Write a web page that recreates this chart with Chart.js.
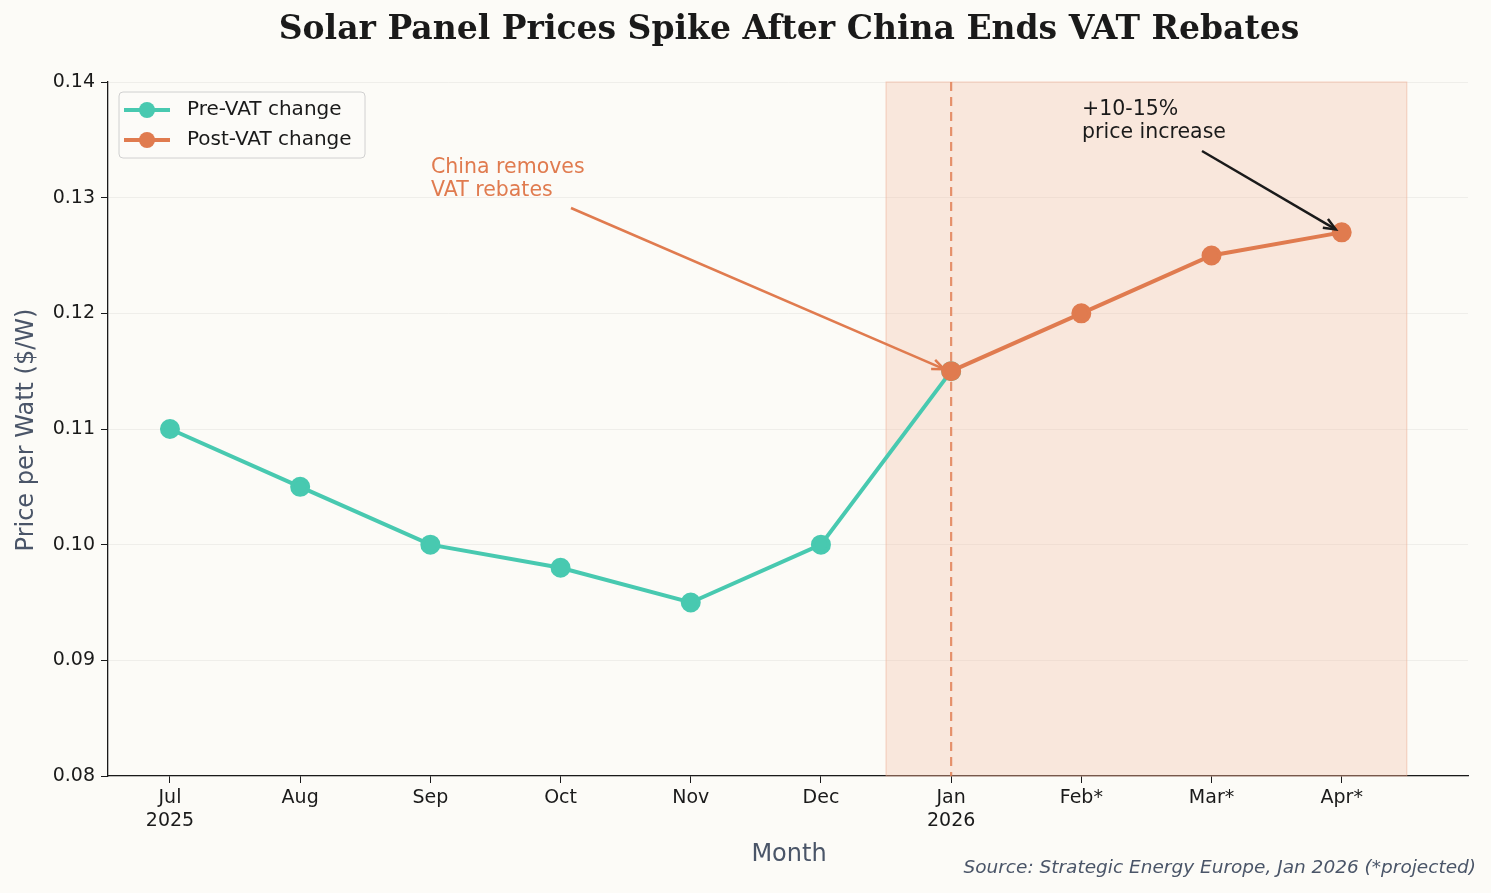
<!DOCTYPE html>
<html><head><meta charset="utf-8">
<script src="https://cdn.jsdelivr.net/npm/chart.js@4"></script>
<style>html,body{margin:0;padding:0;background:#fcfbf7}</style>
</head><body>
<div style="width:1491px;height:893px"><canvas id="c" width="1491" height="893"></canvas></div>
<script>
const months = [['Jul','2025'],'Aug','Sep','Oct','Nov','Dec',['Jan','2026'],'Feb*','Mar*','Apr*'];
const preVat = [0.110,0.105,0.100,0.098,0.095,0.100,0.115];
const postVat = [0.115,0.120,0.125,0.127];
const postStart = 6;
const yTicks = [0.08,0.09,0.10,0.11,0.12,0.13,0.14];
const TEAL='#48c9b0', ORANGE='#e07b4f';

const overlay = {
  id:'overlay',
  beforeDatasetsDraw(ch){
    const {ctx,chartArea:a,scales:{x,y}}=ch;
    ctx.save();
    ctx.fillStyle='rgba(240,170,140,0.25)';
    const x1=x.getPixelForValue(5.5), x2=x.getPixelForValue(9.5);
    ctx.fillRect(x1,a.top,x2-x1,a.bottom-a.top);
    ctx.strokeStyle='rgba(240,170,140,0.5)';ctx.lineWidth=1;
    ctx.strokeRect(x1,a.top,x2-x1,a.bottom-a.top);
    ctx.setLineDash([9,6]);ctx.strokeStyle='rgba(224,123,79,0.8)';ctx.lineWidth=2.2;
    const xj=x.getPixelForValue(6);
    ctx.beginPath();ctx.moveTo(xj,a.top);ctx.lineTo(xj,a.bottom);ctx.stroke();
    ctx.restore();
  },
  afterDraw(ch){
    const {ctx,chartArea:a,scales:{x,y}}=ch;
    ctx.save();
    ctx.fillStyle='#1a1a1a';ctx.font='bold 33px "DejaVu Serif"';ctx.textAlign='center';ctx.textBaseline='middle';
    ctx.fillText('Solar Panel Prices Spike After China Ends VAT Rebates',789,30);
    ctx.fillStyle='#4a5568';ctx.font='24px "DejaVu Sans"';
    ctx.fillText('Month',789,855);
    ctx.save();ctx.translate(27,430);ctx.rotate(-Math.PI/2);ctx.fillText('Price per Watt ($/W)',0,0);ctx.restore();
    ctx.font='italic 18.5px "DejaVu Sans"';ctx.textAlign='right';
    ctx.fillText('Source: Strategic Energy Europe, Jan 2026 (*projected)',1476,868);
    function arrow(x0,y0,x1,y1,col){
      ctx.strokeStyle=col;ctx.fillStyle=col;ctx.lineWidth=2.5;
      ctx.beginPath();ctx.moveTo(x0,y0);ctx.lineTo(x1,y1);ctx.stroke();
      const ang=Math.atan2(y1-y0,x1-x0),L=13;
      ctx.beginPath();ctx.moveTo(x1-L*Math.cos(ang-0.4),y1-L*Math.sin(ang-0.4));ctx.lineTo(x1,y1);
      ctx.lineTo(x1-L*Math.cos(ang+0.4),y1-L*Math.sin(ang+0.4));ctx.stroke();
    }
    ctx.textAlign='left';ctx.textBaseline='middle';ctx.font='20.5px "DejaVu Sans"';
    ctx.fillStyle=ORANGE;ctx.fillText('China removes',431,168);ctx.fillText('VAT rebates',431,191);
    arrow(571,208,x.getPixelForValue(6)-7,y.getPixelForValue(0.115)-2,ORANGE);
    ctx.fillStyle='#1a1a1a';ctx.fillText('+10-15%',1082,110);ctx.fillText('price increase',1082,133);
    arrow(1202,151,x.getPixelForValue(9)-6,y.getPixelForValue(0.127)-3,'#1a1a1a');
    ctx.fillStyle='rgba(252,251,247,0.9)';ctx.strokeStyle='#d0d0d0';ctx.lineWidth=1;
    ctx.beginPath();ctx.roundRect(119,92,246,66,4);ctx.fill();ctx.stroke();
    [[TEAL,'Pre-VAT change',110],[ORANGE,'Post-VAT change',140]].forEach(([c,t,yy])=>{
      ctx.strokeStyle=c;ctx.fillStyle=c;ctx.lineWidth=4;
      ctx.beginPath();ctx.moveTo(124,yy);ctx.lineTo(170,yy);ctx.stroke();
      ctx.beginPath();ctx.arc(147,yy,8,0,Math.PI*2);ctx.fill();
      ctx.fillStyle='#1a1a1a';ctx.font='20px "DejaVu Sans"';ctx.fillText(t,187,yy);
    });
    ctx.restore();
  }
};

new Chart(document.getElementById('c'),{
  type:'line',
  data:{datasets:[
    {label:'Pre-VAT change',order:1,data:preVat.map((v,i)=>({x:i,y:v})),borderColor:TEAL,backgroundColor:TEAL,borderWidth:4,pointRadius:8,pointHoverRadius:8},
    {label:'Post-VAT change',order:0,data:postVat.map((v,i)=>({x:i+postStart,y:v})),borderColor:ORANGE,backgroundColor:ORANGE,borderWidth:4,pointRadius:8,pointHoverRadius:8}
  ]},
  options:{
    responsive:false,animation:false,
    layout:{padding:{left:0,top:82,right:23,bottom:0}},
    plugins:{legend:{display:false},tooltip:{enabled:false}},
    scales:{
      x:{type:'linear',min:-0.476,max:9.97,
        afterFit(s){s.height=117;},
        afterBuildTicks(s){s.ticks=months.map((m,i)=>({value:i}));},
        ticks:{callback:(v)=>months[v],color:'#1a1a1a',font:{size:19,family:'DejaVu Sans'},maxRotation:0,autoSkip:false,padding:4},
        grid:{drawOnChartArea:false,tickLength:7,tickColor:'#1a1a1a'},
        border:{color:'#1a1a1a',width:1.3}},
      y:{min:0.08,max:0.14,
        afterFit(s){s.width=108;},
        afterBuildTicks(s){s.ticks=yTicks.map(v=>({value:v}));},
        ticks:{callback:v=>v.toFixed(2),color:'#1a1a1a',font:{size:19,family:'DejaVu Sans'},padding:6},
        grid:{color:'rgba(0,0,0,0.05)',tickLength:7,tickColor:'#1a1a1a'},
        border:{color:'#1a1a1a',width:1.3}}
    }
  },
  plugins:[overlay]
});
</script></body></html>
